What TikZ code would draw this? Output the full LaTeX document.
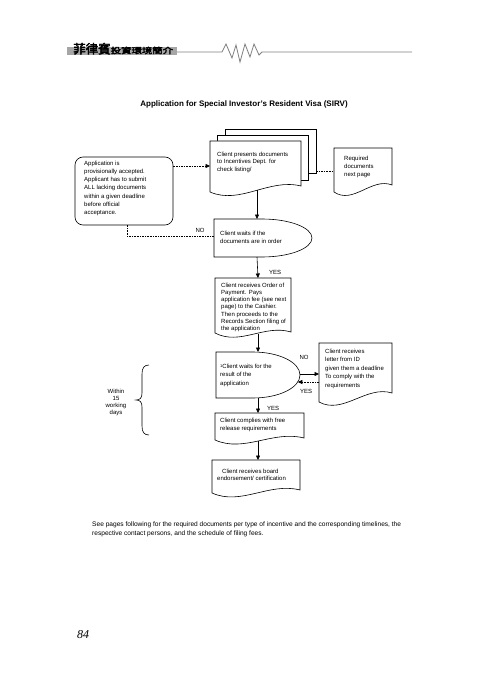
\documentclass[tikz,border=0pt]{standalone}
\usepackage{fontspec}
\setmainfont{Liberation Sans}
\newfontfamily\cjk{Noto Sans CJK TC}[FakeBold=3]
\newfontfamily\serifit{Liberation Serif}
\usetikzlibrary{arrows.meta,calc}
\newcommand\docshape[5]{\draw[shp] (#1,#2) -- (#3,#2) -- (#3,#5) .. controls ({#3-0.35*(#3-#1)},{#5-8}) and ({#1+0.33*(#3-#1)},{#4+13}) .. (#1,#4) -- cycle;}
\begin{document}
\begin{tikzpicture}[x=1pt,y=-1pt,
  shp/.style={draw=black,line width=0.6pt,fill=white},
  txt/.style={anchor=north west,inner sep=0pt,align=left,font=\fontsize{6}{7.5}\selectfont},
  arr/.style={line width=0.6pt,-{Triangle[length=4.5pt,width=4pt]}},
  dsh/.style={line width=0.6pt,dash pattern=on 1.6pt off 1pt},
  lbl/.style={inner sep=0pt,font=\fontsize{6}{7}\selectfont},
  hline/.style={draw=black!50,line width=0.8pt}]
\useasboundingbox[fill=white] (0,0) rectangle (480,679);

% header
\fill[black!35] (67,47) rectangle (177,55);
\node[anchor=base west,inner sep=0pt] (hdr) at (73,53.5) {\cjk\fontsize{12.5}{12.5}\selectfont 菲律賓\scalebox{1.3}[1]{\fontsize{8}{8}\selectfont 投資環境簡介}};
\draw[hline] (177,52) -- (222,52) -- (226,44) -- (232,58) -- (236,45) -- (240,62) -- (245,44) -- (250,57) -- (254,44) -- (259,55) -- (262,52) -- (412,52);

% title
\node[inner sep=0pt,font=\bfseries\fontsize{8}{9.6}\selectfont] (title) at (244,104) {Application for Special Investor's Resident Visa (SIRV)};

% stacked documents
\draw[shp] (225,129) rectangle (316,173);
\draw[shp] (217,135) rectangle (308,180);
\docshape{210}{141}{301}{192}{186}
\node[txt] (present) at (217,151.8) {Client presents documents\\to Incentives Dept. for\\check listing/};
\coordinate (stackW) at (210,166);
\coordinate (stackE) at (316,171);
\coordinate (stackS) at (257,189.5);

% required documents
\docshape{334}{148}{392}{192}{185}
\node[txt,font=\fontsize{6}{8}\selectfont] (req) at (344,155.8) {Required\\documents\\next page};
\coordinate (reqW) at (334,171);
\draw[dsh] (stackE) -- (reqW);

% provisional acceptance box
\node[draw,line width=0.6pt,rounded corners=8pt,minimum width=98pt,minimum height=68pt,inner sep=0pt] (prov) at (124,191) {};
\node[txt,font=\fontsize{6}{8.2}\selectfont] (provtxt) at (84,160.8) {Application is\\provisionally accepted.\\Applicant has to submit\\ALL lacking documents\\within a given deadline\\before official\\acceptance.};
\draw[arr,dsh] (prov.east |- stackW) -- (stackW);

% decision 1
\draw[shp] (214,219) -- (262,219) .. controls (289.6,219) and (312,227.5) .. (312,238) .. controls (312,248.5) and (289.6,257) .. (262,257) -- (214,257) -- cycle;
\node[txt,font=\fontsize{6}{8}\selectfont] (wait1) at (220,230.8) {Client waits if the\\documents are in order};
\coordinate (d1N) at (257,219);
\coordinate (d1S) at (257,257);
\coordinate (d1W) at (214,236);
\coordinate (provS) at (127,225);
\draw[arr] (stackS) -- (d1N);
\draw[dsh] (d1W) -| (provS);
\node[lbl] (no1) at (200,230) {NO};

% payment document
\docshape{215}{278}{291}{333}{332}
\node[txt,font=\fontsize{6}{7.17}\selectfont] (pay) at (221,282.8) {Client receives Order of\\Payment. Pays\\application fee (see next\\page) to the Cashier.\\Then proceeds to the\\Records Section filing of\\the application};
\coordinate (payN) at (258,278);
\coordinate (payS) at (258,333.5);
\draw[arr] (d1S) -- (payN);
\node[lbl] (yes1) at (275,272) {YES};

% decision 2
\draw[shp] (216,352) -- (253,352) .. controls (279,352) and (300,362.3) .. (300,375) .. controls (300,387.7) and (279,398) .. (253,398) -- (216,398) -- cycle;
\node[txt,font=\fontsize{6}{8.5}\selectfont] (wait2) at (220,363.8) {\smash{\raisebox{0.5pt}{\fontsize{4}{4}\selectfont 1}}Client waits for the\\result of the\\application};
\coordinate (d2N) at (258,352);
\coordinate (d2S) at (258,398);
\coordinate (d2E) at (300,374);
\coordinate (d2E2) at (297.8,382);
\draw[arr] (payS) -- (d2N);

% letter document
\docshape{319}{343}{392}{402}{393}
\node[txt,font=\fontsize{6}{8.5}\selectfont] (letter) at (325,348.8) {Client receives\\letter from ID\\given them a deadline\\To comply with the\\requirements};
\coordinate (letW) at (319,374);
\coordinate (letW2) at (319,382);
\draw[arr] (d2E) -- (letW);
\draw[arr,dsh] (letW2) -- (d2E2);
\node[lbl] (no2) at (304,357) {NO};
\node[lbl] (yes2) at (306,391) {YES};

% comply document
\docshape{215}{413}{304}{440}{438}
\node[txt,font=\fontsize{6}{8.5}\selectfont] (comply) at (220,417.8) {Client complies with free\\release requirements};
\coordinate (compN) at (258,413);
\coordinate (compS) at (258,441);
\draw[arr] (d2S) -- (compN);
\node[lbl] (yes3) at (273,408) {YES};

% board document
\docshape{212}{460}{300}{493}{490}
\node[txt,font=\fontsize{6}{7.5}\selectfont] (board) at (217,468.8) {\hspace*{5pt}Client receives board\\endorsement/ certification};
\coordinate (boardN) at (258,460);
\draw[arr] (compS) -- (boardN);

% brace and duration
\draw[line width=0.6pt] (149,365) .. controls (144,365) and (142,368) .. (142,374) -- (142,393) .. controls (142,398) and (140,400) .. (136,400) .. controls (140,400) and (142,402) .. (142,407) -- (142,426) .. controls (142,432) and (144,435) .. (149,435);
\node[lbl,align=center] (within) at (116,402.5) {Within\\15\\working\\days};

% note
\node[txt,font=\fontsize{6.6}{9}\selectfont] (note) at (92,521.5) {See pages following for the required documents per type of incentive and the corresponding timelines, the\\respective contact persons, and the schedule of filing fees.};

% page number
\node[inner sep=0pt,font=\serifit\itshape\fontsize{12}{12}\selectfont] (pg) at (83,635) {84};
\end{tikzpicture}
\end{document}
